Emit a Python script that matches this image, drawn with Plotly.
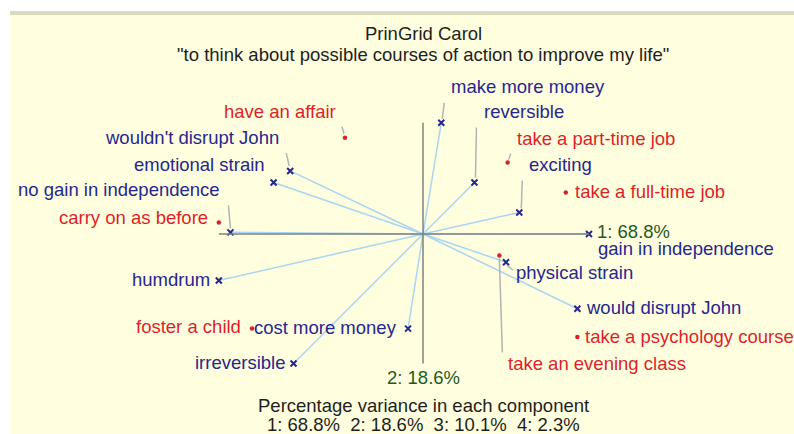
import plotly.graph_objects as go

# ---------------- data (component scores, PC1 / PC2) ----------------
construct_names = ["make more money", "reversible", "exciting", "gain in independence",
                   "physical strain", "would disrupt John", "cost more money", "irreversible",
                   "humdrum", "no gain in independence", "emotional strain", "wouldn't disrupt John"]
construct_x = [0.11, 0.31, 0.58, 1.00, 0.50, 0.93, -0.09, -0.78, -1.23, -1.16, -0.90, -0.80]
construct_y = [0.67, 0.31, 0.13, 0.00, -0.17, -0.45, -0.57, -0.78, -0.28, 0.01, 0.31, 0.38]

element_names = ["have an affair", "take a part-time job", "take a full-time job",
                 "carry on as before", "foster a child", "take an evening class",
                 "take a psychology course"]
element_x = [-0.47, 0.51, 0.86, -1.23, -1.03, 0.46, 0.93]
element_y = [0.58, 0.43, 0.25, 0.07, -0.57, -0.13, -0.62]

variance = [68.8, 18.6, 10.1, 2.3]
title_lines = ["PrinGrid Carol", "\"to think about possible courses of action to improve my life\""]
footer_title = "Percentage variance in each component"

# ---------------- layout / style ----------------
W, H = 794, 434
OX, OY, SCALE = 423, 234, 166.0      # origin pixel position, px per unit
FONT = "Liberation Sans, Arial, Helvetica, sans-serif"
FS = 18.5
NAVY = "#26268f"
RED = "#dc1f2b"
GREEN = "#1f5a1f"
DARK = "#1e1e1e"
LIGHTBLUE = "#a8d5f2"
AXISGRAY = "#808080"
LEADER = "#b3b3b3"

# label placement: (anchor, x shift px, y shift px up)
label_pos = {
    "make more money": ("left", 8, 36),
    "reversible": ("left", 8, 71),
    "exciting": ("left", 8, 48),
    "gain in independence": ("left", 7, -14),
    "physical strain": ("left", 8, -10),
    "would disrupt John": ("left", 7, 1),
    "cost more money": ("right", -9, 1),
    "irreversible": ("right", -7, 1),
    "humdrum": ("right", -7, 1),
    "no gain in independence": ("right", -8, 43),
    "emotional strain": ("right", -7, 18),
    "wouldn't disrupt John": ("right", -9, 33),
    "have an affair": ("right", -7, 26),
    "take a part-time job": ("left", 7, 24),
    "take a full-time job": ("left", 7, 1),
    "carry on as before": ("right", -9, 5),
    "foster a child": ("right", -9, 2),
    "take an evening class": ("left", 7, -108),
    "take a psychology course": ("left", 6, 0),
}
# leader lines: (x0, y0, x1, y1) pixel offsets from the point (y up)
leaders = {
    "have an affair": (-3, 11, -1, 4),
    "wouldn't disrupt John": (-4, 18, -1, 5),
    "make more money": (3, 20, 1, 4),
    "reversible": (2, 55, 1, 5),
    "take a part-time job": (3, 9, 1, 3),
    "exciting": (3, 32, 2, 4),
    "no gain in independence": (-2, 27, 0, 4),
    "take an evening class": (0, -3, 3, -97),
    "physical strain": (1, -3, 7, -8),
}

fig = go.Figure()

# vectors from origin to construct poles
lx, ly = [], []
for x, y in zip(construct_x, construct_y):
    lx += [0, x, None]
    ly += [0, y, None]
fig.add_trace(go.Scatter(x=lx, y=ly, mode="lines",
                         line=dict(color=LIGHTBLUE, width=1.5), hoverinfo="skip"))

# axes (span of construct scores)
xmin, xmax = min(construct_x), max(construct_x)
ymin, ymax = min(construct_y), max(construct_y)
shapes = [
    dict(type="rect", xref="paper", yref="paper", x0=10 / W, x1=1, y0=0, y1=1 - 15 / H,
         fillcolor="#ffffdf", line=dict(width=0), layer="below"),
    dict(type="rect", xref="paper", yref="paper", x0=10 / W, x1=1, y0=1 - 15 / H, y1=1 - 11 / H,
         fillcolor="#dadabd", line=dict(width=0), layer="below"),
    dict(type="line", xref="x", yref="y", x0=xmin, x1=xmax, y0=0, y1=0,
         line=dict(color=AXISGRAY, width=1.5)),
    dict(type="line", xref="x", yref="y", x0=0, x1=0, y0=ymin, y1=ymax,
         line=dict(color=AXISGRAY, width=1.5)),
]

allpts = dict(zip(construct_names, zip(construct_x, construct_y)))
allpts.update(dict(zip(element_names, zip(element_x, element_y))))
for name, (a, b, c, d) in leaders.items():
    px, py = allpts[name]
    shapes.append(dict(type="line", xref="x", yref="y", xsizemode="pixel", ysizemode="pixel",
                       xanchor=px, yanchor=py, x0=a, y0=b, x1=c, y1=d,
                       line=dict(color=LEADER, width=1.5)))

fig.add_trace(go.Scatter(x=construct_x, y=construct_y, mode="markers",
                         marker=dict(symbol="x-thin", size=6, line=dict(color=NAVY, width=2)),
                         hoverinfo="skip"))
fig.add_trace(go.Scatter(x=element_x, y=element_y, mode="markers",
                         marker=dict(symbol="circle", size=4.5, color=RED),
                         hoverinfo="skip"))

annotations = []
def lab(name, color):
    anchor, dx, dy = label_pos[name]
    px, py = allpts[name]
    annotations.append(dict(x=px, y=py, xref="x", yref="y", text=name, showarrow=False,
                            xanchor=anchor, yanchor="middle", xshift=dx, yshift=dy,
                            font=dict(family=FONT, size=FS, color=color)))
for n in construct_names:
    lab(n, NAVY)
for n in element_names:
    lab(n, RED)

# component labels at axis ends
annotations.append(dict(x=xmax, y=0, xref="x", yref="y", text=f"1: {variance[0]}%",
                        showarrow=False, xanchor="left", yanchor="middle", xshift=6, yshift=3,
                        font=dict(family=FONT, size=FS, color=GREEN)))
annotations.append(dict(x=0, y=ymin, xref="x", yref="y", text=f"2: {variance[1]}%",
                        showarrow=False, xanchor="center", yanchor="middle", yshift=-14,
                        font=dict(family=FONT, size=FS, color=GREEN)))

# titles
for txt, py in zip(title_lines, [33, 55]):
    annotations.append(dict(x=0, y=1 - py / H, xref="x", yref="paper", text=txt, showarrow=False,
                            xanchor="center", yanchor="middle",
                            font=dict(family=FONT, size=FS, color=DARK)))
footer = "  ".join(f"{i + 1}: {v}%" for i, v in enumerate(variance))
for txt, py in zip([footer_title, footer], [405, 424]):
    annotations.append(dict(x=0, y=1 - py / H, xref="x", yref="paper", text=txt, showarrow=False,
                            xanchor="center", yanchor="middle",
                            font=dict(family=FONT, size=FS, color=DARK)))

fig.update_layout(
    width=W, height=H,
    margin=dict(l=0, r=0, t=0, b=0),
    paper_bgcolor="white", plot_bgcolor="rgba(0,0,0,0)",
    showlegend=False,
    xaxis=dict(range=[-OX / SCALE, (W - OX) / SCALE], visible=False, fixedrange=True),
    yaxis=dict(range=[-(H - OY) / SCALE, OY / SCALE], visible=False, fixedrange=True),
    shapes=shapes, annotations=annotations,
)
fig.write_html("out.html", config={"displayModeBar": False},
               post_script="document.body.style.margin='0';document.body.style.overflow='hidden';")
